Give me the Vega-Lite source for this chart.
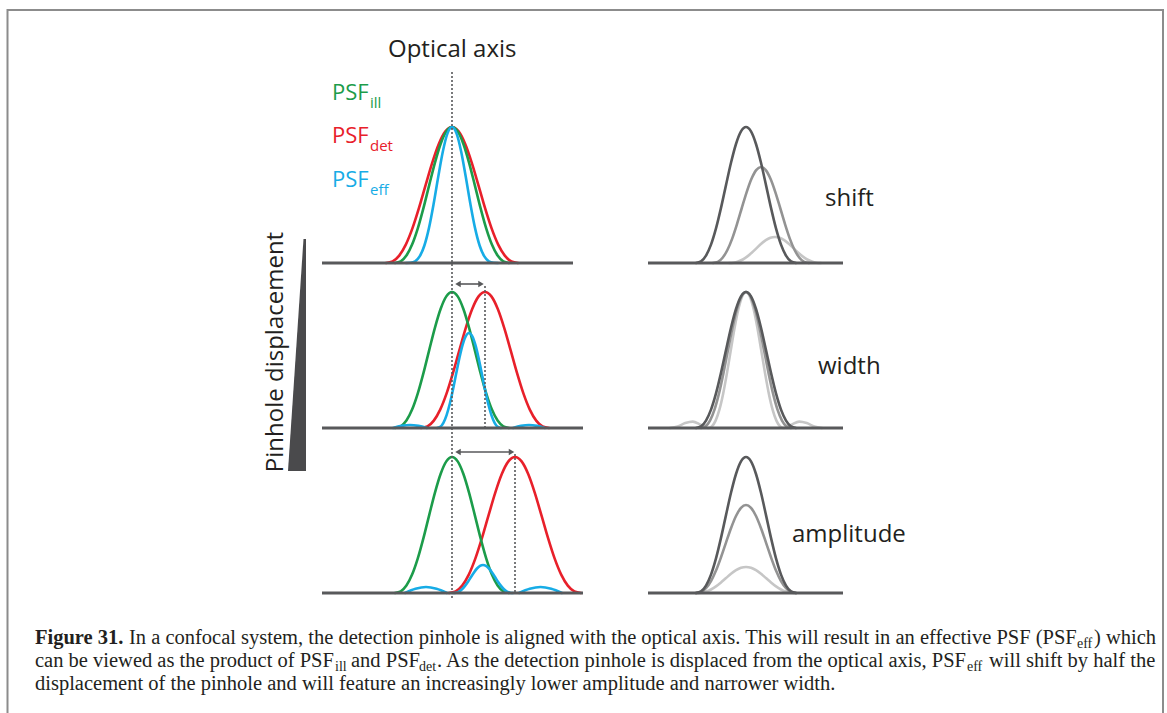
{
"$schema": "https://vega.github.io/schema/vega-lite/v6.json",
"width": 1167, "height": 713,
"autosize": {"type": "fit", "contains": "padding"},
"padding": 0,
"background": "white",
"view": {"stroke": null},
"config": {"font": "Open Sans"},
"datasets": {
"frame": [{"x": 7.5, "y": 10, "x2": 1163, "y2": 760}],
"curves": [
{"s":"light","g":"r1l","x":729,"y":263},{"s":"light","g":"r1l","x":733.6,"y":262.7},{"s":"light","g":"r1l","x":738.2,"y":261.6},{"s":"light","g":"r1l","x":742.8,"y":259.5},{"s":"light","g":"r1l","x":747.4,"y":256.4},{"s":"light","g":"r1l","x":752,"y":252.5},{"s":"light","g":"r1l","x":756.6,"y":248.1},{"s":"light","g":"r1l","x":761.2,"y":243.8},{"s":"light","g":"r1l","x":765.8,"y":240.2},{"s":"light","g":"r1l","x":770.4,"y":237.8},{"s":"light","g":"r1l","x":775,"y":237},{"s":"light","g":"r1l","x":779.6,"y":237.8},{"s":"light","g":"r1l","x":784.2,"y":240.2},{"s":"light","g":"r1l","x":788.8,"y":243.8},{"s":"light","g":"r1l","x":793.4,"y":248.1},{"s":"light","g":"r1l","x":798,"y":252.5},{"s":"light","g":"r1l","x":802.6,"y":256.4},{"s":"light","g":"r1l","x":807.2,"y":259.5},{"s":"light","g":"r1l","x":811.8,"y":261.6},{"s":"light","g":"r1l","x":816.4,"y":262.7},{"s":"light","g":"r1l","x":821,"y":263},
{"s":"light","g":"r2l","x":670,"y":428},{"s":"light","g":"r2l","x":677.6,"y":426.5},{"s":"light","g":"r2l","x":685.2,"y":423.1},{"s":"light","g":"r2l","x":692.8,"y":421.6},{"s":"light","g":"r2l","x":700.4,"y":424.7},{"s":"light","g":"r2l","x":708,"y":428},{"s":"light","g":"r2l","x":711.8,"y":426.4},{"s":"light","g":"r2l","x":715.6,"y":420.6},{"s":"light","g":"r2l","x":719.4,"y":409.6},{"s":"light","g":"r2l","x":723.2,"y":393.4},{"s":"light","g":"r2l","x":727,"y":372.9},{"s":"light","g":"r2l","x":730.8,"y":350.1},{"s":"light","g":"r2l","x":734.6,"y":327.8},{"s":"light","g":"r2l","x":738.4,"y":309},{"s":"light","g":"r2l","x":742.2,"y":296.4},{"s":"light","g":"r2l","x":746,"y":292},{"s":"light","g":"r2l","x":749.8,"y":296.4},{"s":"light","g":"r2l","x":753.6,"y":309},{"s":"light","g":"r2l","x":757.4,"y":327.8},{"s":"light","g":"r2l","x":761.2,"y":350.1},{"s":"light","g":"r2l","x":765,"y":372.9},{"s":"light","g":"r2l","x":768.8,"y":393.4},{"s":"light","g":"r2l","x":772.6,"y":409.6},{"s":"light","g":"r2l","x":776.4,"y":420.6},{"s":"light","g":"r2l","x":780.2,"y":426.4},{"s":"light","g":"r2l","x":784,"y":428},{"s":"light","g":"r2l","x":791.6,"y":424.7},{"s":"light","g":"r2l","x":799.2,"y":421.6},{"s":"light","g":"r2l","x":806.8,"y":423.1},{"s":"light","g":"r2l","x":814.4,"y":426.5},{"s":"light","g":"r2l","x":822,"y":428},
{"s":"light","g":"r3l","x":696,"y":593},{"s":"light","g":"r3l","x":701,"y":592.7},{"s":"light","g":"r3l","x":706,"y":591.6},{"s":"light","g":"r3l","x":711,"y":589.5},{"s":"light","g":"r3l","x":716,"y":586.4},{"s":"light","g":"r3l","x":721,"y":582.5},{"s":"light","g":"r3l","x":726,"y":578.1},{"s":"light","g":"r3l","x":731,"y":573.8},{"s":"light","g":"r3l","x":736,"y":570.2},{"s":"light","g":"r3l","x":741,"y":567.8},{"s":"light","g":"r3l","x":746,"y":567},{"s":"light","g":"r3l","x":751,"y":567.8},{"s":"light","g":"r3l","x":756,"y":570.2},{"s":"light","g":"r3l","x":761,"y":573.8},{"s":"light","g":"r3l","x":766,"y":578.1},{"s":"light","g":"r3l","x":771,"y":582.5},{"s":"light","g":"r3l","x":776,"y":586.4},{"s":"light","g":"r3l","x":781,"y":589.5},{"s":"light","g":"r3l","x":786,"y":591.6},{"s":"light","g":"r3l","x":791,"y":592.7},{"s":"light","g":"r3l","x":796,"y":593},
{"s":"mid","g":"r1m","x":713,"y":263},{"s":"mid","g":"r1m","x":717.8,"y":261.9},{"s":"mid","g":"r1m","x":722.6,"y":257.7},{"s":"mid","g":"r1m","x":727.4,"y":250},{"s":"mid","g":"r1m","x":732.2,"y":238.6},{"s":"mid","g":"r1m","x":737,"y":224.1},{"s":"mid","g":"r1m","x":741.8,"y":208},{"s":"mid","g":"r1m","x":746.6,"y":192.3},{"s":"mid","g":"r1m","x":751.4,"y":179},{"s":"mid","g":"r1m","x":756.2,"y":170.1},{"s":"mid","g":"r1m","x":761,"y":167},{"s":"mid","g":"r1m","x":765.8,"y":170.1},{"s":"mid","g":"r1m","x":770.6,"y":179},{"s":"mid","g":"r1m","x":775.4,"y":192.3},{"s":"mid","g":"r1m","x":780.2,"y":208},{"s":"mid","g":"r1m","x":785,"y":224.1},{"s":"mid","g":"r1m","x":789.8,"y":238.6},{"s":"mid","g":"r1m","x":794.6,"y":250},{"s":"mid","g":"r1m","x":799.4,"y":257.7},{"s":"mid","g":"r1m","x":804.2,"y":261.9},{"s":"mid","g":"r1m","x":809,"y":263},
{"s":"mid","g":"r2m","x":701,"y":428},{"s":"mid","g":"r2m","x":705.5,"y":426.4},{"s":"mid","g":"r2m","x":710,"y":420.6},{"s":"mid","g":"r2m","x":714.5,"y":409.6},{"s":"mid","g":"r2m","x":719,"y":393.4},{"s":"mid","g":"r2m","x":723.5,"y":372.9},{"s":"mid","g":"r2m","x":728,"y":350.1},{"s":"mid","g":"r2m","x":732.5,"y":327.8},{"s":"mid","g":"r2m","x":737,"y":309},{"s":"mid","g":"r2m","x":741.5,"y":296.4},{"s":"mid","g":"r2m","x":746,"y":292},{"s":"mid","g":"r2m","x":750.5,"y":296.4},{"s":"mid","g":"r2m","x":755,"y":309},{"s":"mid","g":"r2m","x":759.5,"y":327.8},{"s":"mid","g":"r2m","x":764,"y":350.1},{"s":"mid","g":"r2m","x":768.5,"y":372.9},{"s":"mid","g":"r2m","x":773,"y":393.4},{"s":"mid","g":"r2m","x":777.5,"y":409.6},{"s":"mid","g":"r2m","x":782,"y":420.6},{"s":"mid","g":"r2m","x":786.5,"y":426.4},{"s":"mid","g":"r2m","x":791,"y":428},
{"s":"mid","g":"r3m","x":696,"y":593},{"s":"mid","g":"r3m","x":701,"y":592},{"s":"mid","g":"r3m","x":706,"y":588.2},{"s":"mid","g":"r3m","x":711,"y":581.1},{"s":"mid","g":"r3m","x":716,"y":570.6},{"s":"mid","g":"r3m","x":721,"y":557.3},{"s":"mid","g":"r3m","x":726,"y":542.6},{"s":"mid","g":"r3m","x":731,"y":528.2},{"s":"mid","g":"r3m","x":736,"y":516},{"s":"mid","g":"r3m","x":741,"y":507.9},{"s":"mid","g":"r3m","x":746,"y":505},{"s":"mid","g":"r3m","x":751,"y":507.9},{"s":"mid","g":"r3m","x":756,"y":516},{"s":"mid","g":"r3m","x":761,"y":528.2},{"s":"mid","g":"r3m","x":766,"y":542.6},{"s":"mid","g":"r3m","x":771,"y":557.3},{"s":"mid","g":"r3m","x":776,"y":570.6},{"s":"mid","g":"r3m","x":781,"y":581.1},{"s":"mid","g":"r3m","x":786,"y":588.2},{"s":"mid","g":"r3m","x":791,"y":592},{"s":"mid","g":"r3m","x":796,"y":593},
{"s":"dark","g":"r1d","x":696,"y":263},{"s":"dark","g":"r1d","x":701,"y":261.4},{"s":"dark","g":"r1d","x":706,"y":255.6},{"s":"dark","g":"r1d","x":711,"y":244.6},{"s":"dark","g":"r1d","x":716,"y":228.4},{"s":"dark","g":"r1d","x":721,"y":207.9},{"s":"dark","g":"r1d","x":726,"y":185.1},{"s":"dark","g":"r1d","x":731,"y":162.8},{"s":"dark","g":"r1d","x":736,"y":144},{"s":"dark","g":"r1d","x":741,"y":131.4},{"s":"dark","g":"r1d","x":746,"y":127},{"s":"dark","g":"r1d","x":751,"y":131.4},{"s":"dark","g":"r1d","x":756,"y":144},{"s":"dark","g":"r1d","x":761,"y":162.8},{"s":"dark","g":"r1d","x":766,"y":185.1},{"s":"dark","g":"r1d","x":771,"y":207.9},{"s":"dark","g":"r1d","x":776,"y":228.4},{"s":"dark","g":"r1d","x":781,"y":244.6},{"s":"dark","g":"r1d","x":786,"y":255.6},{"s":"dark","g":"r1d","x":791,"y":261.4},{"s":"dark","g":"r1d","x":796,"y":263},
{"s":"dark","g":"r2d","x":696,"y":428},{"s":"dark","g":"r2d","x":701,"y":426.4},{"s":"dark","g":"r2d","x":706,"y":420.6},{"s":"dark","g":"r2d","x":711,"y":409.6},{"s":"dark","g":"r2d","x":716,"y":393.4},{"s":"dark","g":"r2d","x":721,"y":372.9},{"s":"dark","g":"r2d","x":726,"y":350.1},{"s":"dark","g":"r2d","x":731,"y":327.8},{"s":"dark","g":"r2d","x":736,"y":309},{"s":"dark","g":"r2d","x":741,"y":296.4},{"s":"dark","g":"r2d","x":746,"y":292},{"s":"dark","g":"r2d","x":751,"y":296.4},{"s":"dark","g":"r2d","x":756,"y":309},{"s":"dark","g":"r2d","x":761,"y":327.8},{"s":"dark","g":"r2d","x":766,"y":350.1},{"s":"dark","g":"r2d","x":771,"y":372.9},{"s":"dark","g":"r2d","x":776,"y":393.4},{"s":"dark","g":"r2d","x":781,"y":409.6},{"s":"dark","g":"r2d","x":786,"y":420.6},{"s":"dark","g":"r2d","x":791,"y":426.4},{"s":"dark","g":"r2d","x":796,"y":428},
{"s":"dark","g":"r3d","x":696,"y":593},{"s":"dark","g":"r3d","x":701,"y":591.4},{"s":"dark","g":"r3d","x":706,"y":585.6},{"s":"dark","g":"r3d","x":711,"y":574.6},{"s":"dark","g":"r3d","x":716,"y":558.4},{"s":"dark","g":"r3d","x":721,"y":537.9},{"s":"dark","g":"r3d","x":726,"y":515.1},{"s":"dark","g":"r3d","x":731,"y":492.8},{"s":"dark","g":"r3d","x":736,"y":474},{"s":"dark","g":"r3d","x":741,"y":461.4},{"s":"dark","g":"r3d","x":746,"y":457},{"s":"dark","g":"r3d","x":751,"y":461.4},{"s":"dark","g":"r3d","x":756,"y":474},{"s":"dark","g":"r3d","x":761,"y":492.8},{"s":"dark","g":"r3d","x":766,"y":515.1},{"s":"dark","g":"r3d","x":771,"y":537.9},{"s":"dark","g":"r3d","x":776,"y":558.4},{"s":"dark","g":"r3d","x":781,"y":574.6},{"s":"dark","g":"r3d","x":786,"y":585.6},{"s":"dark","g":"r3d","x":791,"y":591.4},{"s":"dark","g":"r3d","x":796,"y":593},
{"s":"det","g":"p1r","x":386,"y":263},{"s":"det","g":"p1r","x":392.6,"y":261.4},{"s":"det","g":"p1r","x":399.2,"y":255.6},{"s":"det","g":"p1r","x":405.8,"y":244.6},{"s":"det","g":"p1r","x":412.4,"y":228.4},{"s":"det","g":"p1r","x":419,"y":207.9},{"s":"det","g":"p1r","x":425.6,"y":185.1},{"s":"det","g":"p1r","x":432.2,"y":162.8},{"s":"det","g":"p1r","x":438.8,"y":144},{"s":"det","g":"p1r","x":445.4,"y":131.4},{"s":"det","g":"p1r","x":452,"y":127},{"s":"det","g":"p1r","x":458.6,"y":131.4},{"s":"det","g":"p1r","x":465.2,"y":144},{"s":"det","g":"p1r","x":471.8,"y":162.8},{"s":"det","g":"p1r","x":478.4,"y":185.1},{"s":"det","g":"p1r","x":485,"y":207.9},{"s":"det","g":"p1r","x":491.6,"y":228.4},{"s":"det","g":"p1r","x":498.2,"y":244.6},{"s":"det","g":"p1r","x":504.8,"y":255.6},{"s":"det","g":"p1r","x":511.4,"y":261.4},{"s":"det","g":"p1r","x":518,"y":263},
{"s":"det","g":"p2r","x":421,"y":428},{"s":"det","g":"p2r","x":427.4,"y":426.4},{"s":"det","g":"p2r","x":433.8,"y":420.6},{"s":"det","g":"p2r","x":440.2,"y":409.6},{"s":"det","g":"p2r","x":446.6,"y":393.4},{"s":"det","g":"p2r","x":453,"y":372.9},{"s":"det","g":"p2r","x":459.4,"y":350.1},{"s":"det","g":"p2r","x":465.8,"y":327.8},{"s":"det","g":"p2r","x":472.2,"y":309},{"s":"det","g":"p2r","x":478.6,"y":296.4},{"s":"det","g":"p2r","x":485,"y":292},{"s":"det","g":"p2r","x":491.4,"y":296.4},{"s":"det","g":"p2r","x":497.8,"y":309},{"s":"det","g":"p2r","x":504.2,"y":327.8},{"s":"det","g":"p2r","x":510.6,"y":350.1},{"s":"det","g":"p2r","x":517,"y":372.9},{"s":"det","g":"p2r","x":523.4,"y":393.4},{"s":"det","g":"p2r","x":529.8,"y":409.6},{"s":"det","g":"p2r","x":536.2,"y":420.6},{"s":"det","g":"p2r","x":542.6,"y":426.4},{"s":"det","g":"p2r","x":549,"y":428},
{"s":"det","g":"p3r","x":449,"y":593},{"s":"det","g":"p3r","x":455.6,"y":591.4},{"s":"det","g":"p3r","x":462.2,"y":585.6},{"s":"det","g":"p3r","x":468.8,"y":574.6},{"s":"det","g":"p3r","x":475.4,"y":558.4},{"s":"det","g":"p3r","x":482,"y":537.9},{"s":"det","g":"p3r","x":488.6,"y":515.1},{"s":"det","g":"p3r","x":495.2,"y":492.8},{"s":"det","g":"p3r","x":501.8,"y":474},{"s":"det","g":"p3r","x":508.4,"y":461.4},{"s":"det","g":"p3r","x":515,"y":457},{"s":"det","g":"p3r","x":521.6,"y":461.4},{"s":"det","g":"p3r","x":528.2,"y":474},{"s":"det","g":"p3r","x":534.8,"y":492.8},{"s":"det","g":"p3r","x":541.4,"y":515.1},{"s":"det","g":"p3r","x":548,"y":537.9},{"s":"det","g":"p3r","x":554.6,"y":558.4},{"s":"det","g":"p3r","x":561.2,"y":574.6},{"s":"det","g":"p3r","x":567.8,"y":585.6},{"s":"det","g":"p3r","x":574.4,"y":591.4},{"s":"det","g":"p3r","x":581,"y":593},
{"s":"ill","g":"p1g","x":395,"y":263},{"s":"ill","g":"p1g","x":400.7,"y":261.4},{"s":"ill","g":"p1g","x":406.4,"y":255.6},{"s":"ill","g":"p1g","x":412.1,"y":244.6},{"s":"ill","g":"p1g","x":417.8,"y":228.4},{"s":"ill","g":"p1g","x":423.5,"y":207.9},{"s":"ill","g":"p1g","x":429.2,"y":185.1},{"s":"ill","g":"p1g","x":434.9,"y":162.8},{"s":"ill","g":"p1g","x":440.6,"y":144},{"s":"ill","g":"p1g","x":446.3,"y":131.4},{"s":"ill","g":"p1g","x":452,"y":127},{"s":"ill","g":"p1g","x":457.7,"y":131.4},{"s":"ill","g":"p1g","x":463.4,"y":144},{"s":"ill","g":"p1g","x":469.1,"y":162.8},{"s":"ill","g":"p1g","x":474.8,"y":185.1},{"s":"ill","g":"p1g","x":480.5,"y":207.9},{"s":"ill","g":"p1g","x":486.2,"y":228.4},{"s":"ill","g":"p1g","x":491.9,"y":244.6},{"s":"ill","g":"p1g","x":497.6,"y":255.6},{"s":"ill","g":"p1g","x":503.3,"y":261.4},{"s":"ill","g":"p1g","x":509,"y":263},
{"s":"ill","g":"p2g","x":395,"y":428},{"s":"ill","g":"p2g","x":400.7,"y":426.4},{"s":"ill","g":"p2g","x":406.4,"y":420.6},{"s":"ill","g":"p2g","x":412.1,"y":409.6},{"s":"ill","g":"p2g","x":417.8,"y":393.4},{"s":"ill","g":"p2g","x":423.5,"y":372.9},{"s":"ill","g":"p2g","x":429.2,"y":350.1},{"s":"ill","g":"p2g","x":434.9,"y":327.8},{"s":"ill","g":"p2g","x":440.6,"y":309},{"s":"ill","g":"p2g","x":446.3,"y":296.4},{"s":"ill","g":"p2g","x":452,"y":292},{"s":"ill","g":"p2g","x":457.7,"y":296.4},{"s":"ill","g":"p2g","x":463.4,"y":309},{"s":"ill","g":"p2g","x":469.1,"y":327.8},{"s":"ill","g":"p2g","x":474.8,"y":350.1},{"s":"ill","g":"p2g","x":480.5,"y":372.9},{"s":"ill","g":"p2g","x":486.2,"y":393.4},{"s":"ill","g":"p2g","x":491.9,"y":409.6},{"s":"ill","g":"p2g","x":497.6,"y":420.6},{"s":"ill","g":"p2g","x":503.3,"y":426.4},{"s":"ill","g":"p2g","x":509,"y":428},
{"s":"ill","g":"p3g","x":395,"y":593},{"s":"ill","g":"p3g","x":400.7,"y":591.4},{"s":"ill","g":"p3g","x":406.4,"y":585.6},{"s":"ill","g":"p3g","x":412.1,"y":574.6},{"s":"ill","g":"p3g","x":417.8,"y":558.4},{"s":"ill","g":"p3g","x":423.5,"y":537.9},{"s":"ill","g":"p3g","x":429.2,"y":515.1},{"s":"ill","g":"p3g","x":434.9,"y":492.8},{"s":"ill","g":"p3g","x":440.6,"y":474},{"s":"ill","g":"p3g","x":446.3,"y":461.4},{"s":"ill","g":"p3g","x":452,"y":457},{"s":"ill","g":"p3g","x":457.7,"y":461.4},{"s":"ill","g":"p3g","x":463.4,"y":474},{"s":"ill","g":"p3g","x":469.1,"y":492.8},{"s":"ill","g":"p3g","x":474.8,"y":515.1},{"s":"ill","g":"p3g","x":480.5,"y":537.9},{"s":"ill","g":"p3g","x":486.2,"y":558.4},{"s":"ill","g":"p3g","x":491.9,"y":574.6},{"s":"ill","g":"p3g","x":497.6,"y":585.6},{"s":"ill","g":"p3g","x":503.3,"y":591.4},{"s":"ill","g":"p3g","x":509,"y":593},
{"s":"eff","g":"p1b","x":406,"y":263},{"s":"eff","g":"p1b","x":410.6,"y":262.8},{"s":"eff","g":"p1b","x":415.2,"y":261.3},{"s":"eff","g":"p1b","x":419.8,"y":256.2},{"s":"eff","g":"p1b","x":424.4,"y":245.5},{"s":"eff","g":"p1b","x":429,"y":227.9},{"s":"eff","g":"p1b","x":433.6,"y":204},{"s":"eff","g":"p1b","x":438.2,"y":177},{"s":"eff","g":"p1b","x":442.8,"y":151.7},{"s":"eff","g":"p1b","x":447.4,"y":133.6},{"s":"eff","g":"p1b","x":452,"y":127},{"s":"eff","g":"p1b","x":456.6,"y":133.6},{"s":"eff","g":"p1b","x":461.2,"y":151.7},{"s":"eff","g":"p1b","x":465.8,"y":177},{"s":"eff","g":"p1b","x":470.4,"y":204},{"s":"eff","g":"p1b","x":475,"y":227.9},{"s":"eff","g":"p1b","x":479.6,"y":245.5},{"s":"eff","g":"p1b","x":484.2,"y":256.2},{"s":"eff","g":"p1b","x":488.8,"y":261.3},{"s":"eff","g":"p1b","x":493.4,"y":262.8},{"s":"eff","g":"p1b","x":498,"y":263},
{"s":"eff","g":"p2b","x":437,"y":428},{"s":"eff","g":"p2b","x":440.2,"y":426.9},{"s":"eff","g":"p2b","x":443.4,"y":422.8},{"s":"eff","g":"p2b","x":446.6,"y":415.1},{"s":"eff","g":"p2b","x":449.8,"y":403.8},{"s":"eff","g":"p2b","x":453,"y":389.5},{"s":"eff","g":"p2b","x":456.2,"y":373.6},{"s":"eff","g":"p2b","x":459.4,"y":358},{"s":"eff","g":"p2b","x":462.6,"y":344.9},{"s":"eff","g":"p2b","x":465.8,"y":336.1},{"s":"eff","g":"p2b","x":469,"y":333},{"s":"eff","g":"p2b","x":472.2,"y":336.1},{"s":"eff","g":"p2b","x":475.4,"y":344.9},{"s":"eff","g":"p2b","x":478.6,"y":358},{"s":"eff","g":"p2b","x":481.8,"y":373.6},{"s":"eff","g":"p2b","x":485,"y":389.5},{"s":"eff","g":"p2b","x":488.2,"y":403.8},{"s":"eff","g":"p2b","x":491.4,"y":415.1},{"s":"eff","g":"p2b","x":494.6,"y":422.8},{"s":"eff","g":"p2b","x":497.8,"y":426.9},{"s":"eff","g":"p2b","x":501,"y":428},
{"s":"eff","g":"p2bl","x":393,"y":428},{"s":"eff","g":"p2bl","x":401.5,"y":425.9},{"s":"eff","g":"p2bl","x":410,"y":425},{"s":"eff","g":"p2bl","x":418.5,"y":425.9},{"s":"eff","g":"p2bl","x":427,"y":428},
{"s":"eff","g":"p2br","x":513,"y":428},{"s":"eff","g":"p2br","x":521,"y":425.9},{"s":"eff","g":"p2br","x":529,"y":425},{"s":"eff","g":"p2br","x":537,"y":425.9},{"s":"eff","g":"p2br","x":545,"y":428},
{"s":"eff","g":"p3b","x":453,"y":593},{"s":"eff","g":"p3b","x":456,"y":592.7},{"s":"eff","g":"p3b","x":459,"y":591.5},{"s":"eff","g":"p3b","x":462,"y":589.2},{"s":"eff","g":"p3b","x":465,"y":585.9},{"s":"eff","g":"p3b","x":468,"y":581.7},{"s":"eff","g":"p3b","x":471,"y":577},{"s":"eff","g":"p3b","x":474,"y":572.4},{"s":"eff","g":"p3b","x":477,"y":568.5},{"s":"eff","g":"p3b","x":480,"y":565.9},{"s":"eff","g":"p3b","x":483,"y":565},{"s":"eff","g":"p3b","x":486,"y":565.9},{"s":"eff","g":"p3b","x":489,"y":568.5},{"s":"eff","g":"p3b","x":492,"y":572.4},{"s":"eff","g":"p3b","x":495,"y":577},{"s":"eff","g":"p3b","x":498,"y":581.7},{"s":"eff","g":"p3b","x":501,"y":585.9},{"s":"eff","g":"p3b","x":504,"y":589.2},{"s":"eff","g":"p3b","x":507,"y":591.5},{"s":"eff","g":"p3b","x":510,"y":592.7},{"s":"eff","g":"p3b","x":513,"y":593},
{"s":"eff","g":"p3bl","x":405,"y":593},{"s":"eff","g":"p3bl","x":415.5,"y":588.8},{"s":"eff","g":"p3bl","x":426,"y":587},{"s":"eff","g":"p3bl","x":436.5,"y":588.8},{"s":"eff","g":"p3bl","x":447,"y":593},
{"s":"eff","g":"p3br","x":519,"y":593},{"s":"eff","g":"p3br","x":529.75,"y":588.8},{"s":"eff","g":"p3br","x":540.5,"y":587},{"s":"eff","g":"p3br","x":551.25,"y":588.8},{"s":"eff","g":"p3br","x":562,"y":593}
],
"baselines": [{"x":322,"x2":573,"y":263},{"x":322,"x2":583,"y":428},{"x":322,"x2":583,"y":593},{"x":648,"x2":843,"y":263},{"x":648,"x2":843,"y":428},{"x":648,"x2":843,"y":593}],
"dotted": [{"x":452,"y":72,"y2":598},{"x":485,"y":286,"y2":428},{"x":515,"y":454,"y2":593}],
"arrows": [{"x":457,"x2":481,"y":284},{"x":457,"x2":511,"y":452}],
"heads": [{"x":458,"y":284,"d":"l"},{"x":481,"y":284,"d":"r"},{"x":458,"y":452,"d":"l"},{"x":511.5,"y":452,"d":"r"}],
"wedge": [{"y":239,"x":303.5,"x2":306},{"y":471,"x":288,"x2":306}],
"labels": [{"t":"Optical axis","x":388,"y":57},{"t":"shift","x":825,"y":206},{"t":"width","x":818,"y":374},{"t":"amplitude","x":792,"y":542}],
"psf": [{"t":"PSF","s":"ill","x":332,"y":100},{"t":"PSF","s":"det","x":332,"y":143},{"t":"PSF","s":"eff","x":332,"y":187}],
"psfsub": [{"t":"ill","s":"ill","x":370,"y":108},{"t":"det","s":"det","x":370,"y":151},{"t":"eff","s":"eff","x":370,"y":195}],
"vlabel": [{"t":"Pinhole displacement","x":276,"y":352}],
"capbold": [{"t":"Figure 31.","x":35,"y":644}],
"cap": [
{"t":"In a confocal system, the detection pinhole is aligned with the optical axis. This will result in an effective PSF (PSF","x":129,"y":644},
{"t":") which","x":1094,"y":644},
{"t":"can be viewed as the product of PSF","x":35,"y":667},
{"t":"and PSF","x":351,"y":667},
{"t":". As the detection pinhole is displaced from the optical axis, PSF","x":437,"y":667},
{"t":"will shift by half the","x":989,"y":667},
{"t":"displacement of the pinhole and will feature an increasingly lower amplitude and narrower width.","x":35,"y":690}
],
"capsub": [{"t":"eff","x":1077,"y":648},{"t":"ill","x":335,"y":671},{"t":"det","x":419,"y":671},{"t":"eff","x":967,"y":671}]
},
"encoding": {
"x": {"field":"x","type":"quantitative","scale":{"domain":[0,1167],"nice":false,"zero":false},"axis":null},
"y": {"field":"y","type":"quantitative","scale":{"domain":[0,713],"nice":false,"zero":false,"reverse":true},"axis":null}
},
"layer": [
{"data":{"name":"frame"},"mark":{"type":"rect","fillOpacity":0,"stroke":"#8c8c8c","strokeWidth":2,"clip":true},"encoding":{"x2":{"field":"x2"},"y2":{"field":"y2"}}},
{"data":{"name":"curves"},"mark":{"type":"line","interpolate":"monotone","strokeWidth":2.6,"strokeCap":"round"},
 "encoding":{"color":{"field":"s","type":"nominal","scale":{"domain":["ill","det","eff","dark","mid","light"],"range":["#1c9c4a","#e8202a","#17ace6","#58595b","#939393","#c6c6c6"]},"legend":null},"detail":{"field":"g"}}},
{"data":{"name":"baselines"},"mark":{"type":"rule","color":"#58595b","strokeWidth":3},"encoding":{"x2":{"field":"x2"}}},
{"data":{"name":"dotted"},"mark":{"type":"rule","color":"#58595b","strokeWidth":1.6,"strokeDash":[2,2]},"encoding":{"y2":{"field":"y2"}}},
{"data":{"name":"arrows"},"mark":{"type":"rule","color":"#58595b","strokeWidth":1.6},"encoding":{"x2":{"field":"x2"}}},
{"data":{"name":"heads"},"mark":{"type":"point","filled":true,"size":40,"color":"#58595b","opacity":1},"encoding":{"shape":{"field":"d","type":"nominal","scale":{"domain":["l","r"],"range":["triangle-left","triangle-right"]},"legend":null}}},
{"data":{"name":"wedge"},"mark":{"type":"area","orient":"horizontal","color":"#4a4a4c"},"encoding":{"x2":{"field":"x2"}}},
{"data":{"name":"labels"},"mark":{"type":"text","align":"left","baseline":"alphabetic","fontSize":24,"font":"Open Sans","color":"#231f20"},"encoding":{"text":{"field":"t"}}},
{"data":{"name":"psf"},"mark":{"type":"text","align":"left","baseline":"alphabetic","fontSize":22,"font":"Open Sans"},"encoding":{"text":{"field":"t"},"color":{"field":"s","type":"nominal","legend":null}}},
{"data":{"name":"psfsub"},"mark":{"type":"text","align":"left","baseline":"alphabetic","fontSize":15,"font":"Open Sans"},"encoding":{"text":{"field":"t"},"color":{"field":"s","type":"nominal","legend":null}}},
{"data":{"name":"vlabel"},"mark":{"type":"text","align":"center","baseline":"middle","angle":270,"fontSize":24,"font":"Open Sans","color":"#231f20"},"encoding":{"text":{"field":"t"}}},
{"data":{"name":"capbold"},"mark":{"type":"text","align":"left","baseline":"alphabetic","fontSize":20.5,"fontWeight":"bold","font":"Liberation Serif","color":"#231f20"},"encoding":{"text":{"field":"t"}}},
{"data":{"name":"cap"},"mark":{"type":"text","align":"left","baseline":"alphabetic","fontSize":20.5,"font":"Liberation Serif","color":"#231f20"},"encoding":{"text":{"field":"t"}}},
{"data":{"name":"capsub"},"mark":{"type":"text","align":"left","baseline":"alphabetic","fontSize":14,"font":"Liberation Serif","color":"#231f20"},"encoding":{"text":{"field":"t"}}}
]
}
